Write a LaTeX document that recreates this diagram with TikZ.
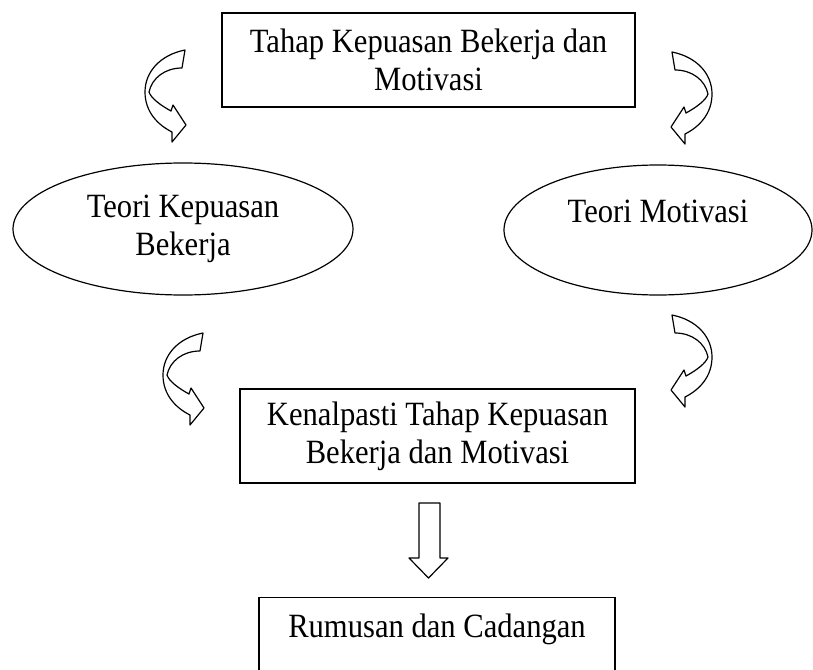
\documentclass[tikz,border=0pt]{standalone}
\usepackage{fontspec}
\setmainfont{Liberation Serif}[FakeStretch=0.9]
\usetikzlibrary{shapes.geometric}

% curved block arrow, tail at (#1,#2), #3 = 1 (bulge left) or -1 (bulge right)
\newcommand{\bentarrow}[3]{%
  \begin{scope}[shift={(#1,#2)}, xscale=#3]
    \draw[bent] (0,0) .. controls (-25,5) and (-40,22) .. (-40,42)
      .. controls (-40,62) and (-27,75) .. (-13,82)
      -- (-13,92) -- (1,75) -- (-12,55) -- (-14,61)
      .. controls (-25,55) and (-34,48) .. (-36,42)
      .. controls (-33,28) and (-20,18) .. (-3,18) -- cycle;
  \end{scope}}

\tikzset{
  box/.style={draw, line width=1.4pt, inner sep=0pt, align=center},
  oval/.style={draw, ellipse, line width=1.2pt, inner sep=0pt, align=center},
  bent/.style={draw, fill=white, line width=1.2pt, line join=round},
}

\begin{document}
\begin{tikzpicture}[x=1pt, y=-1pt, every node/.style={font=\fontsize{34}{38}\selectfont}]
    \useasboundingbox (0,0) rectangle (813,669);
    \clip (0,0) rectangle (813,669);

    % Boxes
    \node[box, minimum width=413, minimum height=94] (tahap) at (428.5,60)
      {Tahap Kepuasan Bekerja dan\\Motivasi};
    \node[box, minimum width=395, minimum height=94] (kenal) at (437.5,436)
      {Kenalpasti Tahap Kepuasan\\Bekerja dan Motivasi};
    \node[box, anchor=north, minimum width=356, minimum height=94] (rumusan) at (437,597)
      {Rumusan dan Cadangan\\ \mbox{}};

    % Theories
    \node[oval, minimum width=340, minimum height=132] (kepuasan) at (183,229)
      {Teori Kepuasan\\Bekerja};
    \node[oval, minimum width=308, minimum height=130] (motivasi) at (658,230)
      {Teori Motivasi\\ \mbox{}};

    % Curved arrows
    \bentarrow{185}{50}{1}
    \bentarrow{203}{333}{1}
    \bentarrow{672}{52}{-1}
    \bentarrow{672}{315}{-1}

    % Down arrow
    \draw[bent] (419,503) -- (440,503) -- (440,558) -- (448,558)
      -- (428.5,578) -- (409,558) -- (419,558) -- cycle;
\end{tikzpicture}
\end{document}
